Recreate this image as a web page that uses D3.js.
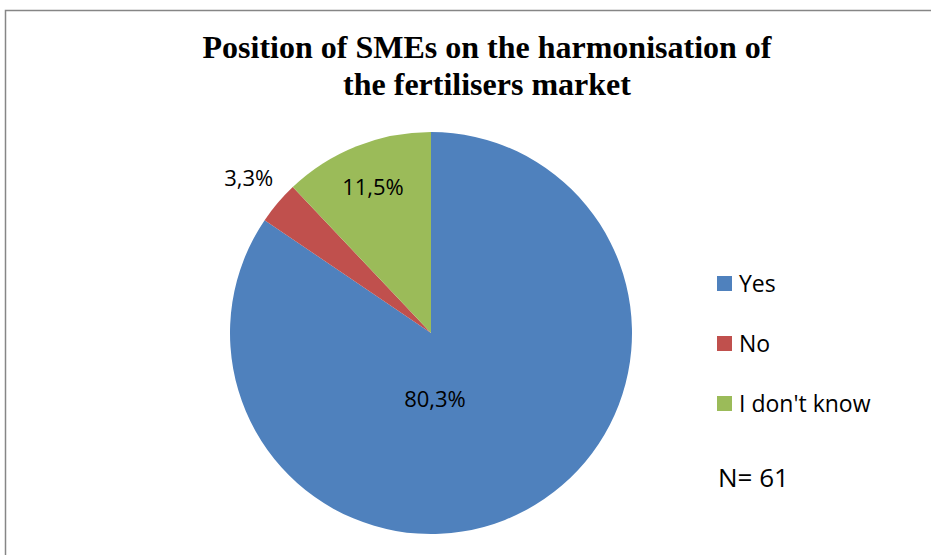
<!DOCTYPE html>
<html>
<head>
<meta charset="utf-8">
<script src="https://cdn.jsdelivr.net/npm/d3@7"></script>
<style>
  body { margin: 0; background: #fff; overflow: hidden; }
  svg { display: block; }
</style>
</head>
<body>
<div id="chart"></div>
<script>
const categories = ['Yes', 'No', "I don't know"]
const counts = [49, 2, 7]
const total = 61
const colors = ['#4F81BD', '#C0504D', '#9BBB59']
const titleLines = ['Position of SMEs on the harmonisation of', 'the fertilisers market']

const width = 931
const height = 555
const cx = 431
const cy = 333
const radius = 201

const data = categories.map((c, i) => ({ name: c, value: counts[i], color: colors[i] }))
const fmt = v => (v / total * 100).toFixed(1).replace('.', ',') + '%'

const svg = d3.select('#chart').append('svg')
    .attr('width', width)
    .attr('height', height)

// chart frame (right and bottom edges fall outside the picture)
svg.append('rect')
    .attr('x', 5.5)
    .attr('y', 10.5)
    .attr('width', 1200)
    .attr('height', 1200)
    .attr('fill', '#fff')
    .attr('stroke', '#868686')
    .attr('stroke-width', 1.5)

svg.append('g')
    .selectAll('text')
    .data(titleLines)
    .enter().append('text')
    .attr('x', 487)
    .attr('y', (d, i) => 58 + i * 37)
    .attr('text-anchor', 'middle')
    .style('font-family', '"Liberation Serif", "Times New Roman", serif')
    .style('font-weight', 'bold')
    .style('font-size', '32px')
    .attr('fill', '#000')
    .text(d => d)

const pie = d3.pie().sort(null).value(d => d.value)
const arc = d3.arc().innerRadius(0).outerRadius(radius)
const arcs = pie(data)

const g = svg.append('g').attr('transform', `translate(${cx},${cy})`)

g.selectAll('.slice')
    .data(arcs)
    .enter().append('path')
    .attr('class', 'slice')
    .attr('d', arc)
    .attr('fill', d => d.data.color)

// label placement: radius factor, optional angle override (best-fit style)
const labelR = [0.33, 1.19, 0.78]
const labelAngle = [Math.PI - 0.06, null, null]

g.selectAll('.lbl')
    .data(arcs)
    .enter().append('text')
    .attr('class', 'lbl')
    .attr('transform', (d, i) => {
        const a = labelAngle[i] != null ? labelAngle[i] : (d.startAngle + d.endAngle) / 2
        const r = radius * labelR[i]
        return `translate(${r * Math.sin(a)},${-r * Math.cos(a)})`
    })
    .attr('text-anchor', 'middle')
    .attr('dy', '0.35em')
    .style('font-family', '"Open Sans", sans-serif')
    .style('font-size', '22px')
    .attr('fill', '#000')
    .text(d => fmt(d.data.value))

const legend = svg.selectAll('.legend')
    .data(data)
    .enter().append('g')
    .attr('class', 'legend')
    .attr('transform', (d, i) => `translate(717,${276 + i * 60})`)

legend.append('rect')
    .attr('width', 15)
    .attr('height', 15)
    .attr('fill', d => d.color)

legend.append('text')
    .attr('x', 22)
    .attr('y', 15.5)
    .style('font-family', '"Open Sans", sans-serif')
    .style('font-size', '23px')
    .attr('fill', '#000')
    .text(d => d.name)

svg.append('text')
    .attr('x', 718)
    .attr('y', 487)
    .style('font-family', '"Open Sans", sans-serif')
    .style('font-size', '26px')
    .attr('fill', '#000')
    .text('N= ' + total)
</script>
</body>
</html>
